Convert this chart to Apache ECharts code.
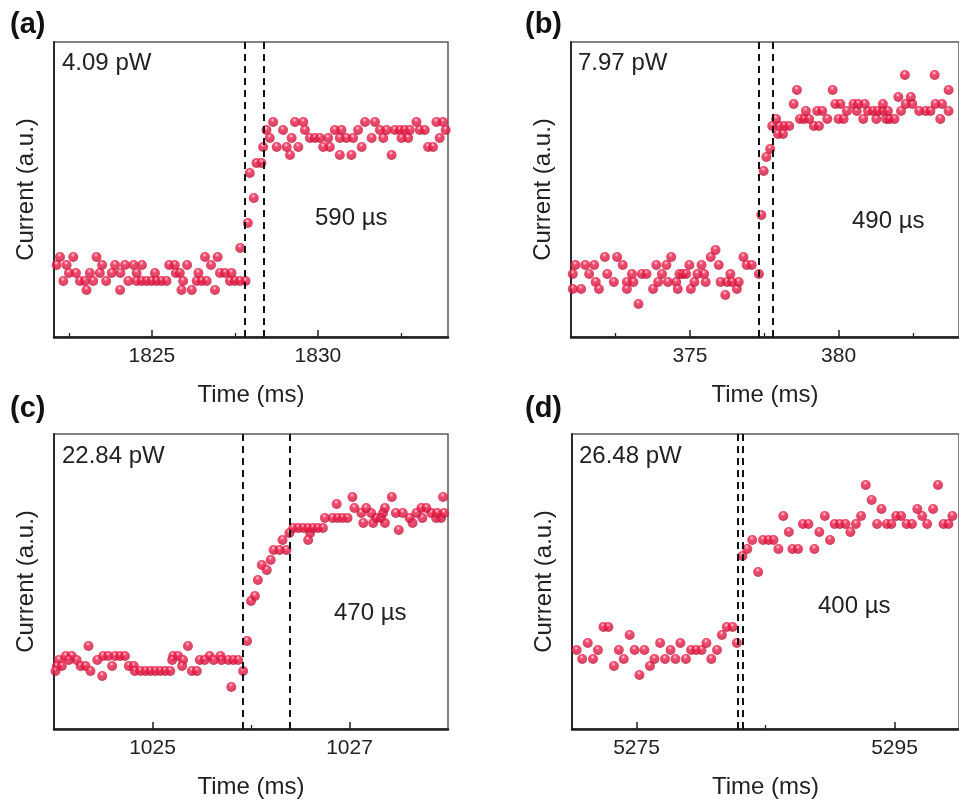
<!DOCTYPE html>
<html><head><meta charset="utf-8">
<script src="https://cdn.jsdelivr.net/npm/echarts@6/dist/echarts.min.js"></script>
<style>html,body{margin:0;padding:0;background:#fff}#c{width:959px;height:805px}</style>
</head><body><div id="c"></div>
<script>
// ---------- data: [time (ms), current (a.u.)] ----------
const pointsA = [
 [1822.03,3.9],[1822.13,7.2],[1822.23,8.0],[1822.33,5.6],[1822.43,7.2],[1822.50,6.4],[1822.63,8.0],[1822.71,6.4],[1822.83,5.6],[1822.98,5.6],
 [1823.03,4.7],[1823.13,6.4],[1823.23,5.6],[1823.33,8.0],[1823.43,6.4],[1823.50,7.2],[1823.62,5.6],[1823.79,6.4],[1823.89,7.2],[1824.04,4.7],
 [1824.05,6.4],[1824.19,7.2],[1824.29,5.6],[1824.45,7.2],[1824.54,6.4],[1824.54,5.6],[1824.69,5.6],[1824.70,7.2],[1824.84,5.6],[1824.99,5.6],
 [1825.09,6.4],[1825.14,5.6],[1825.29,5.6],[1825.44,5.6],[1825.52,7.2],[1825.69,7.2],[1825.72,6.4],[1825.84,6.4],[1825.89,4.7],[1825.94,5.6],
 [1826.06,7.2],[1826.20,4.7],[1826.35,5.6],[1826.40,6.4],[1826.50,5.6],[1826.60,8.0],[1826.65,5.6],[1826.78,7.2],[1826.90,4.7],[1826.98,8.0],
 [1827.05,6.4],[1827.20,6.4],[1827.35,5.6],[1827.40,6.4],[1827.50,5.6],[1827.65,5.6],[1827.82,5.6],
 [1827.66,8.9],[1827.89,11.4],[1827.95,16.4],[1828.07,13.9],[1828.15,17.4],[1828.30,17.4],
 [1828.35,19.0],[1828.45,20.7],[1828.55,19.9],[1828.65,21.5],[1828.76,19.0],[1828.95,20.7],[1829.06,19.0],[1829.16,18.2],[1829.21,19.9],[1829.31,21.5],
 [1829.41,19.0],[1829.56,21.5],[1829.61,20.7],[1829.76,19.9],[1829.91,19.9],[1830.06,19.9],[1830.16,19.0],[1830.31,19.9],[1830.36,19.0],[1830.51,20.7],
 [1830.66,19.9],[1830.66,18.2],[1830.71,20.7],[1830.86,19.9],[1831.01,18.2],[1831.06,19.9],[1831.21,20.7],[1831.32,19.0],[1831.42,21.5],[1831.62,19.9],
 [1831.72,21.5],[1831.87,20.7],[1831.97,19.9],[1832.07,20.7],[1832.22,18.2],[1832.32,20.7],[1832.47,20.7],[1832.52,19.9],[1832.62,20.7],[1832.72,19.9],
 [1832.77,20.7],[1832.97,21.5],[1833.07,20.7],[1833.22,20.7],[1833.32,19.0],[1833.47,19.0],[1833.57,21.5],[1833.67,19.9],[1833.77,21.5],[1833.85,20.7]
];
const pointsB = [
 [371.06,6.3],[371.06,4.8],[371.15,7.2],[371.34,4.8],[371.48,7.2],[371.61,6.3],[371.78,7.2],[371.83,5.5],[371.94,4.8],[372.14,8.0],
 [372.22,6.3],[372.44,5.5],[372.55,8.0],[372.74,7.2],[372.88,5.5],[372.88,4.8],[373.05,6.3],[373.10,5.5],[373.27,3.3],[373.38,6.3],
 [373.54,6.3],[373.76,4.8],[373.87,7.2],[373.93,5.5],[374.06,6.3],[374.21,7.2],[374.26,5.5],[374.37,8.0],[374.54,5.5],[374.59,4.8],
 [374.65,6.3],[374.76,6.3],[374.87,6.3],[374.98,7.2],[375.03,4.8],[375.15,5.5],[375.25,6.3],[375.39,7.2],[375.48,6.3],[375.53,5.5],
 [375.70,8.0],[375.86,8.7],[375.97,7.2],[376.03,5.5],[376.19,4.2],[376.25,5.5],[376.36,6.3],[376.41,5.5],[376.58,4.8],[376.64,5.5],
 [376.80,8.0],[376.91,7.2],[377.08,7.2],[377.32,6.3],
 [377.40,12.2],[377.48,16.6],[377.57,18.0],[377.70,18.8],
 [377.77,21.1],[378.01,21.1],[378.18,21.1],[378.34,21.1],[379.17,21.1],[379.34,21.1],[377.96,20.3],[378.13,20.3],
 [377.90,21.8],[378.70,21.8],[378.84,21.8],[379.01,21.8],[379.62,21.8],[380.00,21.8],[380.17,21.8],[380.83,21.8],[381.27,21.8],[381.60,21.8],[381.71,21.8],[381.88,21.8],[383.42,21.8],
 [378.90,22.6],[379.28,22.6],[379.45,22.6],[380.28,22.6],[380.61,22.6],[380.99,22.6],[381.16,22.6],[381.32,22.6],[381.49,22.6],[381.66,22.6],[382.10,22.6],[382.71,22.6],[382.93,22.6],[383.09,22.6],[383.70,22.6],
 [378.49,23.3],[379.89,23.3],[380.06,23.3],[380.50,23.3],[380.66,23.3],[380.88,23.3],[381.49,23.3],[382.26,23.3],[382.48,23.3],[383.26,23.3],[383.48,23.3],
 [382.01,24.0],[382.43,24.0],[378.60,24.7],[379.80,24.7],[383.70,24.7],[382.23,26.2],[383.23,26.2]
];
const pointsC = [
 [1024.35,8.3],[1025.36,8.3],
 [1024.12,7.3],[1024.18,7.3],[1024.50,7.3],[1024.55,7.3],[1024.62,7.3],[1024.67,7.3],[1024.72,7.3],[1025.21,7.3],[1025.26,7.3],[1025.58,7.3],[1025.69,7.3],
 [1024.05,6.9],[1024.15,6.9],[1024.23,6.9],[1024.44,6.9],[1025.20,6.9],[1025.31,6.9],[1025.48,6.9],[1025.53,6.9],[1025.62,6.9],[1025.70,6.9],[1025.77,6.9],[1025.82,6.9],[1025.87,6.9],
 [1024.03,6.3],[1024.08,6.3],[1024.27,6.3],[1024.32,6.3],[1024.59,6.3],[1024.76,6.3],[1024.81,6.3],[1025.30,6.3],
 [1024.015,5.8],[1024.37,5.8],[1024.82,5.8],[1024.88,5.8],[1024.93,5.8],[1024.98,5.8],[1025.03,5.8],[1025.08,5.8],[1025.13,5.8],[1025.18,5.8],[1025.40,5.8],[1025.45,5.8],[1025.92,5.8],
 [1024.49,5.3],[1025.80,4.2],
 [1025.96,8.8],[1026.00,12.8],[1026.04,13.3],[1026.07,14.9],[1026.11,16.4],[1026.16,15.9],[1026.20,16.9],[1026.23,17.9],[1026.29,17.9],[1026.32,18.9],[1026.36,17.9],
 [1026.39,19.6],[1026.60,19.6],[1026.58,18.9],
 [1026.43,20.1],[1026.48,20.1],[1026.53,20.1],[1026.58,20.1],[1026.63,20.1],[1026.68,20.1],[1026.73,20.1],[1027.50,19.9],
 [1027.14,20.6],[1027.24,20.6],[1027.36,20.6],[1027.64,20.6],
 [1026.75,21.1],[1026.83,21.1],[1026.88,21.1],[1026.93,21.1],[1026.98,21.1],[1027.27,21.1],[1027.32,21.1],[1027.61,21.1],[1027.74,21.1],[1027.88,21.1],[1027.93,21.1],
 [1027.12,21.6],[1027.22,21.6],[1027.34,21.6],[1027.47,21.6],[1027.54,21.6],[1027.68,21.6],[1027.83,21.6],[1027.89,21.6],[1027.96,21.6],
 [1027.05,22.1],[1027.17,22.1],[1027.36,22.1],[1027.73,22.1],[1027.78,22.1],
 [1026.87,22.5],[1027.03,23.2],[1027.43,23.2],[1027.95,23.2]
];
const pointsD = [
 [5270.36,7.9],[5270.79,7.0],[5271.22,8.6],[5271.63,7.0],[5272.01,7.9],[5272.44,10.2],[5272.82,10.2],[5273.25,6.3],[5273.63,7.9],[5274.01,7.0],
 [5274.47,9.4],[5274.85,7.9],[5275.23,5.4],[5275.61,7.9],[5276.04,6.3],[5276.39,7.0],[5276.83,8.6],[5277.21,7.0],[5277.64,7.9],[5278.02,7.0],
 [5278.40,8.6],[5278.83,7.0],[5279.23,7.9],[5279.62,7.9],[5280.04,7.9],[5280.42,8.6],[5280.80,7.0],[5281.24,7.9],[5281.62,9.4],[5282.00,10.2],
 [5282.45,10.2],[5282.78,8.6],
 [5283.21,17.3],[5283.59,18.0],[5283.97,18.9],[5284.43,15.7],[5284.81,18.9],[5285.24,18.9],[5285.62,18.9],[5286.00,18.0],[5286.38,21.3],[5286.81,19.7],
 [5287.09,18.0],[5287.52,18.0],[5287.90,20.5],[5288.33,20.5],[5288.79,18.0],[5289.17,19.7],[5289.60,21.3],[5290.00,18.9],[5290.36,20.5],[5290.76,20.5],
 [5291.20,20.5],[5291.58,19.7],[5292.01,20.5],[5292.41,21.3],[5292.77,24.4],[5293.23,22.9],[5293.65,20.5],[5293.99,22.0],[5294.41,20.5],[5294.75,20.5],
 [5295.13,21.3],[5295.51,21.3],[5295.94,20.5],[5296.35,20.5],[5296.77,22.0],[5297.15,21.3],[5297.53,20.5],[5297.99,22.0],[5298.37,24.4],[5298.80,20.5],
 [5299.18,20.5],[5299.49,21.3]
];

const panelLabels = ['(a)','(b)','(c)','(d)'];
const powerLabels = ['4.09 pW','7.97 pW','22.84 pW','26.48 pW'];
const timeLabels = ['590 µs','490 µs','470 µs','400 µs'];
const xRanges = [[1822.05,1833.92],[371,384.05],[1024,1028],[5270,5300]];
const majorTicks = [[1825,1830],[375,380],[1025,1027],[5275,5295]];
const minorTicks = [[1822.5,1827.5,1832.5],[372.5,377.5,382.5],[1026],[5285]];
const dashTimes = [[1827.80,1828.38],[377.32,377.78],[1025.92,1026.39],[5282.83,5283.21]];
const allPoints = [pointsA,pointsB,pointsC,pointsD];

// ---------- layout ----------
const layout = [
 {left:54, top:42, label:[10,25], power:[62,63.5], tau:[315,218]},
 {left:571, top:42, label:[525,25], power:[578,63.5], tau:[852,221.5]},
 {left:54, top:434, label:[10,409], power:[62,456], tau:[334,613]},
 {left:572, top:434, label:[525,409], power:[579,456], tau:[818,606.5]}
];
const FONT = 'Liberation Sans, Arial, Helvetica, sans-serif';
const sphere = {type:'radial', x:0.45, y:0.3, r:0.7, colorStops:[
  {offset:0, color:'#ffffff'},{offset:0.1, color:'#ff8ea4'},{offset:0.3, color:'#ec1f4a'},
  {offset:0.8, color:'#d5163f'},{offset:1, color:'#a30f30'}]};

const grid=[], xAxis=[], yAxis=[], series=[], graphic=[];
layout.forEach((L,i)=>{
  grid.push({left:L.left, top:L.top, width:394, height:295, show:true, borderColor:'#5a5a5a', borderWidth:1.5, containLabel:false});
  xAxis.push({type:'value', gridIndex:i, position:'bottom', min:xRanges[i][0], max:xRanges[i][1],
    axisLine:{show:true, onZero:false, lineStyle:{color:'#1e1e1e', width:2.5}},
    axisTick:{show:true, inside:true, length:7, customValues:majorTicks[i], lineStyle:{color:'#1e1e1e', width:1.5}},
    axisLabel:{show:true, customValues:majorTicks[i], formatter:(v)=>String(v), fontSize:21, color:'#222', margin:9, fontFamily:FONT},
    splitLine:{show:false},
    name:'Time (ms)', nameLocation:'middle', nameGap:46, nameTextStyle:{fontSize:24, color:'#222', fontFamily:FONT}});
  xAxis.push({type:'value', gridIndex:i, position:'bottom', min:xRanges[i][0], max:xRanges[i][1],
    axisLine:{show:false},
    axisTick:{show:true, inside:true, length:4, customValues:minorTicks[i], lineStyle:{color:'#1e1e1e', width:1.3}},
    axisLabel:{show:false}, splitLine:{show:false}});
  yAxis.push({type:'value', gridIndex:i, min:0, max:29.5,
    axisLine:{show:true, onZero:false, lineStyle:{color:'#2a2a2a', width:2}},
    axisTick:{show:false}, axisLabel:{show:false}, splitLine:{show:false},
    name:'Current (a.u.)', nameLocation:'middle', nameGap:16, nameTextStyle:{fontSize:24, color:'#222', fontFamily:FONT}});
  series.push({type:'scatter', xAxisIndex:2*i, yAxisIndex:i, data:allPoints[i], symbol:'circle', symbolSize:10,
    itemStyle:{color:sphere}, clip:true, z:2,
    markLine:{silent:true, symbol:['none','none'], label:{show:false}, animation:false,
      lineStyle:{type:[7,5], color:'#111', width:2},
      data:dashTimes[i].map(t=>({xAxis:t}))}});
  graphic.push({type:'text', style:{text:panelLabels[i], x:L.label[0], y:L.label[1], fill:'#111',
    fontSize:29, fontWeight:'bold', fontFamily:FONT, align:'left', verticalAlign:'middle', textAlign:'left', textVerticalAlign:'middle'}});
  graphic.push({type:'text', style:{text:powerLabels[i], x:L.power[0], y:L.power[1], fill:'#222',
    fontSize:24, fontFamily:FONT, align:'left', verticalAlign:'middle', textAlign:'left', textVerticalAlign:'middle'}});
  graphic.push({type:'text', style:{text:timeLabels[i], x:L.tau[0], y:L.tau[1], fill:'#222',
    fontSize:24, fontFamily:FONT, align:'left', verticalAlign:'middle', textAlign:'left', textVerticalAlign:'middle'}});
});

const chart = echarts.init(document.getElementById('c'), null, {renderer:'canvas'});
chart.setOption({animation:false, backgroundColor:'#fff', grid, xAxis, yAxis, series, graphic});
</script>
</body></html>
